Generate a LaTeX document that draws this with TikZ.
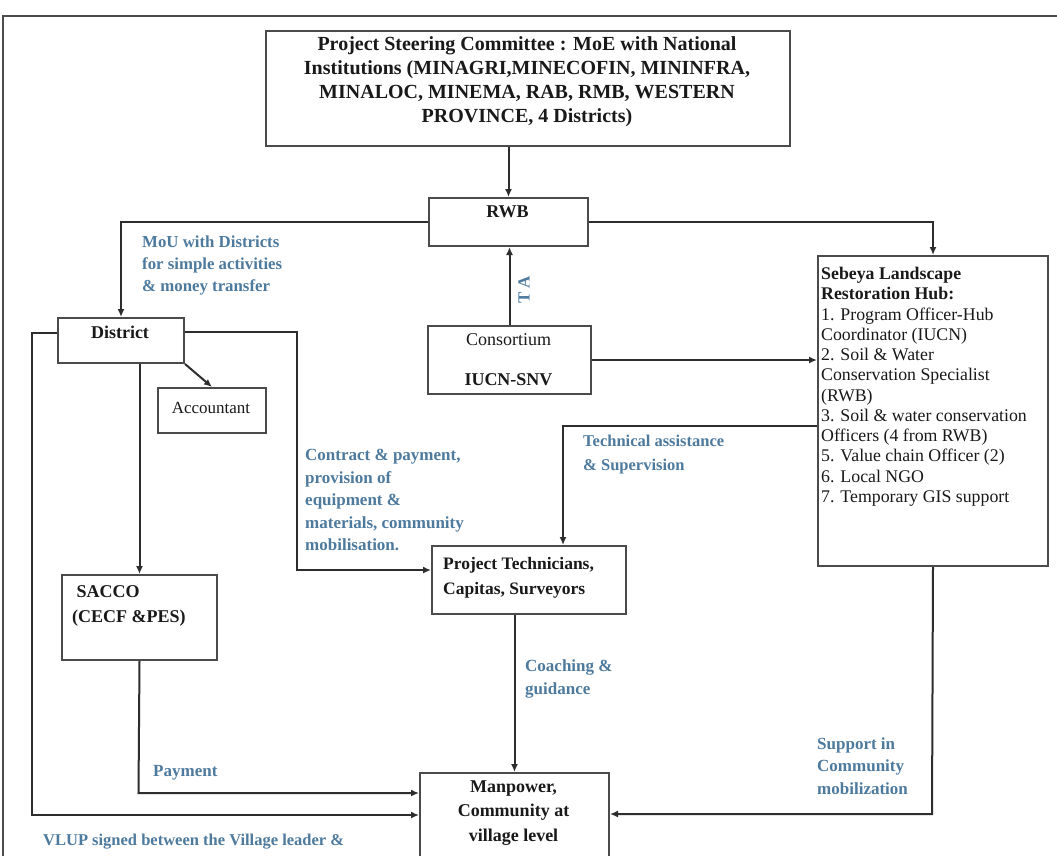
\documentclass[tikz,border=0pt]{standalone}
\usepackage{fontspec}
\setmainfont{Liberation Serif}
\usetikzlibrary{arrows.meta}
\definecolor{lblue}{RGB}{78,122,158}
\definecolor{linecol}{RGB}{45,45,45}
\definecolor{boxcol}{RGB}{75,75,75}
\begin{document}
\begin{tikzpicture}[x=1pt,y=-1pt,
  box/.style={draw=boxcol, line width=2pt, inner sep=0pt, anchor=north west},
  bt/.style={inner sep=0pt, text=black!90, font=\bfseries\fontsize{18}{22}\selectfont},
  rt/.style={inner sep=0pt, text=black!90, font=\fontsize{18}{22}\selectfont},
  arr/.style={draw=linecol, line width=2pt, -{Latex[length=8pt,width=7pt]}},
  frame/.style={draw=black!70, line width=2.4pt},
  lbl/.style={text=lblue, font=\bfseries\fontsize{17}{22.5}\selectfont, align=left, inner sep=0pt, anchor=west}]
\clip (0,0) rectangle (1057,855);
\fill[white] (0,0) rectangle (1057,855);
\draw[frame] (3,870) -- (3,16) -- (1070,16);

% boxes
\node[box, minimum width=524pt, minimum height=115pt] (top) at (265,30) {};
\node[box, minimum width=159pt, minimum height=48pt] (rwb) at (428,197) {};
\node[box, minimum width=126pt, minimum height=45pt] (district) at (57,317) {};
\node[box, minimum width=108pt, minimum height=45pt] (acc) at (157,387) {};
\node[box, minimum width=163pt, minimum height=68pt] (cons) at (427,325) {};
\node[box, minimum width=230pt, minimum height=310pt] (hub) at (817,255) {};
\node[box, minimum width=194pt, minimum height=68pt] (tech) at (431,545) {};
\node[box, minimum width=155pt, minimum height=85pt] (sacco) at (61,574) {};
\node[box, minimum width=189pt, minimum height=120pt] (man) at (419,772) {};

% box texts
\node[bt, align=center, font=\bfseries\fontsize{20}{24}\selectfont] (topt) at (527,82)
  {Project Steering Committee : MoE with National\\Institutions (MINAGRI,MINECOFIN, MININFRA,\\MINALOC, MINEMA, RAB, RMB, WESTERN\\PROVINCE, 4 Districts)};
\node[bt] (rwbt) at (507.5,212) {RWB};
\node[bt] (districtt) at (120,332) {District};
\node[rt, font=\fontsize{17}{20}\selectfont] (acct) at (211,408) {Accountant};
\node[rt] (const) at (508.5,340) {Consortium};
\node[bt] (iucnt) at (508.5,380) {IUCN-SNV};
\node[rt, anchor=north west, align=left, font=\fontsize{17.8}{20.27}\selectfont] (hubt) at (821,267)
  {\textbf{Sebeya Landscape}\\\textbf{Restoration Hub:}\\1. Program Officer-Hub\\Coordinator (IUCN)\\2. Soil \& Water\\Conservation Specialist\\(RWB)\\3. Soil \& water conservation\\Officers (4 from RWB)\\5. Value chain Officer (2)\\6. Local NGO\\7. Temporary GIS support};
\node[bt, anchor=west, align=left, font=\bfseries\fontsize{17.5}{25}\selectfont] (techt) at (443,578) {Project Technicians,\\Capitas, Surveyors};
\node[bt, anchor=west, align=left, font=\bfseries\fontsize{18}{25}\selectfont] (saccot) at (72,606) {\hspace*{4.5pt}SACCO\\(CECF \&PES)};
\node[bt, align=center, font=\bfseries\fontsize{18}{24.5}\selectfont] (mant) at (513.5,813) {Manpower,\\Community at\\village level};

% connectors
\draw[arr] (rwb.north |- top.south) -- (rwb.north);
\draw[arr] (rwb.west) -| (district.north);
\draw[arr] (rwb.east) -| (hub.north);
\draw[arr] (cons.north) -- (cons.north |- rwb.south);
\draw[arr] (cons.east) -- (cons.east -| hub.west);
\coordinate (ta) at (563,426);
\draw[arr] (hub.west |- ta) -- (ta) -- (ta |- tech.north);
\coordinate (ct1) at (297,332);
\coordinate (ct2) at (297,570);
\draw[arr] (district.east |- ct1) -- (ct1) -- (ct2) -- (ct2 -| tech.west);
\draw[arr] (district.south east) -- (acc.north);
\draw[arr] (sacco.north |- district.south) -- (sacco.north);
\coordinate (l1) at (32,333);
\coordinate (l2) at (32,815);
\draw[arr] (district.west |- l1) -- (l1) -- (l2) -- (l2 -| man.west);
\coordinate (p1) at (138.5,793);
\draw[arr] (sacco.south) -- (p1) -- (p1 -| man.west);
\draw[arr] (man.north |- tech.south) -- (man.north);
\coordinate (h1) at (932,814);
\draw[arr] (hub.south) -- (h1) -- (h1 -| man.east);

% labels
\node[lbl, font=\bfseries\fontsize{16.8}{22}\selectfont] (moul) at (142,265) {MoU with Districts\\for simple activities\\\& money transfer};
\node[lbl, anchor=center, rotate=90] (tal) at (524,290) {T A};
\node[lbl, font=\bfseries\fontsize{16.5}{24}\selectfont] (tasl) at (583,455) {Technical assistance\\\& Supervision};
\node[lbl] (ctl) at (305,500) {Contract \& payment,\\provision of\\equipment \&\\materials, community\\mobilisation.};
\node[lbl] (coachl) at (525,679) {Coaching \&\\guidance};
\node[lbl] (suppl) at (817,766) {Support in\\Community\\mobilization};
\node[lbl] (payl) at (153,773) {Payment};
\node[lbl, font=\bfseries\fontsize{16.5}{22}\selectfont] (vlupl) at (43,842) {VLUP signed between the Village leader \&};
\end{tikzpicture}
\end{document}
